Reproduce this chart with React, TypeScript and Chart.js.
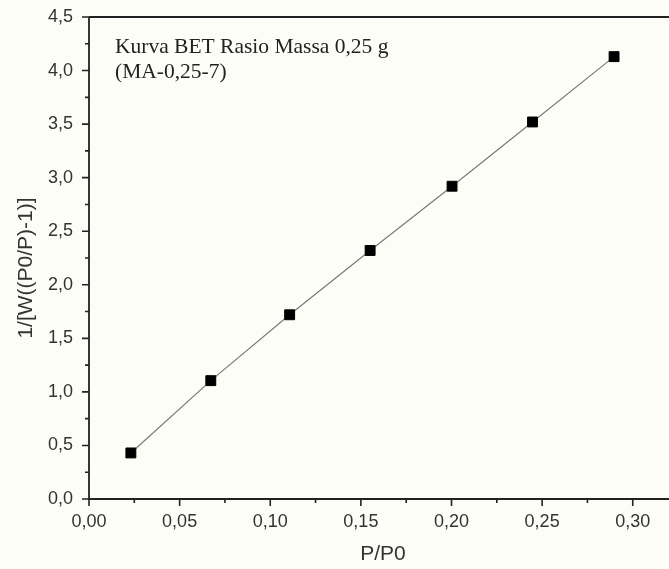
import React, { useEffect, useRef } from "react";
import { Chart, registerables } from "chart.js";

Chart.register(...registerables);

const pressureRatio = [0.0231, 0.0672, 0.1107, 0.1551, 0.2003, 0.2447, 0.2897];
const betValues = [0.43, 1.105, 1.72, 2.32, 2.92, 3.52, 4.13];
const xTickLabels = ["0,00", "0,05", "0,10", "0,15", "0,20", "0,25", "0,30"];
const yTickLabels = ["0,0", "0,5", "1,0", "1,5", "2,0", "2,5", "3,0", "3,5", "4,0", "4,5"];
const annotationLines = ["Kurva BET Rasio Massa 0,25 g", "(MA-0,25-7)"];
const xTitle = "P/P0";
const yTitle = "1/[W((P0/P)-1)]";

const SANS = "'Liberation Sans', Arial, sans-serif";
const SERIF = "'Liberation Serif', 'Times New Roman', serif";

const framePlugin = {
  id: "frame",
  beforeDraw(chart: any) {
    const { ctx, width, height } = chart;
    ctx.save();
    ctx.fillStyle = "#fdfdf8";
    ctx.fillRect(0, 0, width, height);
    ctx.restore();
  },
  afterDatasetsDraw(chart: any) {
    const { ctx, chartArea, width } = chart;
    const { left, top, bottom } = chartArea;
    const xs = chart.scales.x;
    const ys = chart.scales.y;
    ctx.save();
    ctx.strokeStyle = "#222";
    ctx.lineWidth = 1.8;
    ctx.beginPath();
    ctx.moveTo(left, top);
    ctx.lineTo(width, top);
    ctx.moveTo(left, top);
    ctx.lineTo(left, bottom);
    ctx.lineTo(width, bottom);
    ctx.stroke();
    ctx.lineWidth = 1.6;
    ctx.beginPath();
    for (let i = 0; i <= 12; i++) {
      const v = i * 0.025;
      const px = xs.getPixelForValue(v);
      const len = i % 2 === 0 ? 7 : 4;
      ctx.moveTo(px, bottom);
      ctx.lineTo(px, bottom + len);
    }
    for (let i = 0; i <= 18; i++) {
      const v = i * 0.25;
      const py = ys.getPixelForValue(v);
      const len = i % 2 === 0 ? 7 : 4;
      ctx.moveTo(left, py);
      ctx.lineTo(left - len, py);
    }
    ctx.stroke();

    // axis titles
    ctx.fillStyle = "#333";
    ctx.font = `21px ${SANS}`;
    ctx.textAlign = "center";
    ctx.textBaseline = "middle";
    ctx.fillText(xTitle, xs.getPixelForValue(0.16) + 4, 554);
    ctx.save();
    ctx.translate(26, 268);
    ctx.rotate(-Math.PI / 2);
    ctx.fillText(yTitle, 0, 0);
    ctx.restore();

    // annotation
    ctx.fillStyle = "#222";
    ctx.font = `21.5px ${SERIF}`;
    ctx.textAlign = "left";
    ctx.textBaseline = "alphabetic";
    ctx.fillText(annotationLines[0], 115, 53);
    ctx.fillText(annotationLines[1], 115, 78);
    ctx.restore();
  },
};

export default function App() {
  const ref = useRef<HTMLCanvasElement | null>(null);
  useEffect(() => {
    if (!ref.current) return;
    const data = pressureRatio.map((x, i) => ({ x, y: betValues[i] }));
    const chart = new Chart(ref.current, {
      type: "scatter",
      data: {
        datasets: [
          {
            data,
            showLine: true,
            borderColor: "#7a7a7a",
            borderWidth: 1.2,
            pointStyle: "rect",
            pointRadius: 7,
            pointBorderWidth: 1,
            pointBackgroundColor: "#000",
            pointBorderColor: "#000",
          } as any,
        ],
      },
      options: {
        responsive: false,
        animation: false,
        layout: { autoPadding: false, padding: { top: 17, left: 0, right: -8, bottom: 0 } },
        plugins: { legend: { display: false }, tooltip: { enabled: false } },
        scales: {
          x: {
            type: "linear",
            min: 0,
            max: 0.32,
            grid: { display: false, drawTicks: false },
            border: { display: false },
            afterFit: (s: any) => {
              s.height = 70;
              s.paddingLeft = 0;
              s.paddingRight = 0;
            },
            ticks: {
              stepSize: 0.05,
              includeBounds: false,
              autoSkip: false,
              maxRotation: 0,
              padding: 12,
              color: "#333",
              font: { family: SANS, size: 18 },
              callback: (v: any) => {
                const i = Math.round(Number(v) / 0.05);
                return Math.abs(Number(v) - i * 0.05) < 1e-6 ? xTickLabels[i] ?? "" : "";
              },
            },
          },
          y: {
            type: "linear",
            min: 0,
            max: 4.5,
            grid: { display: false, drawTicks: false },
            border: { display: false },
            afterFit: (s: any) => {
              s.width = 89;
              s.paddingTop = 0;
              s.paddingBottom = 0;
            },
            ticks: {
              stepSize: 0.5,
              autoSkip: false,
              padding: 16,
              color: "#333",
              font: { family: SANS, size: 18 },
              callback: (v: any) => {
                const i = Math.round(Number(v) / 0.5);
                return yTickLabels[i] ?? "";
              },
            },
          },
        },
      },
      plugins: [framePlugin],
    });
    return () => chart.destroy();
  }, []);
  return (
    <div style={{ position: "fixed", left: 0, top: 0, width: 669, height: 569 }}>
      <canvas ref={ref} width={669} height={569} style={{ display: "block" }} />
    </div>
  );
}
